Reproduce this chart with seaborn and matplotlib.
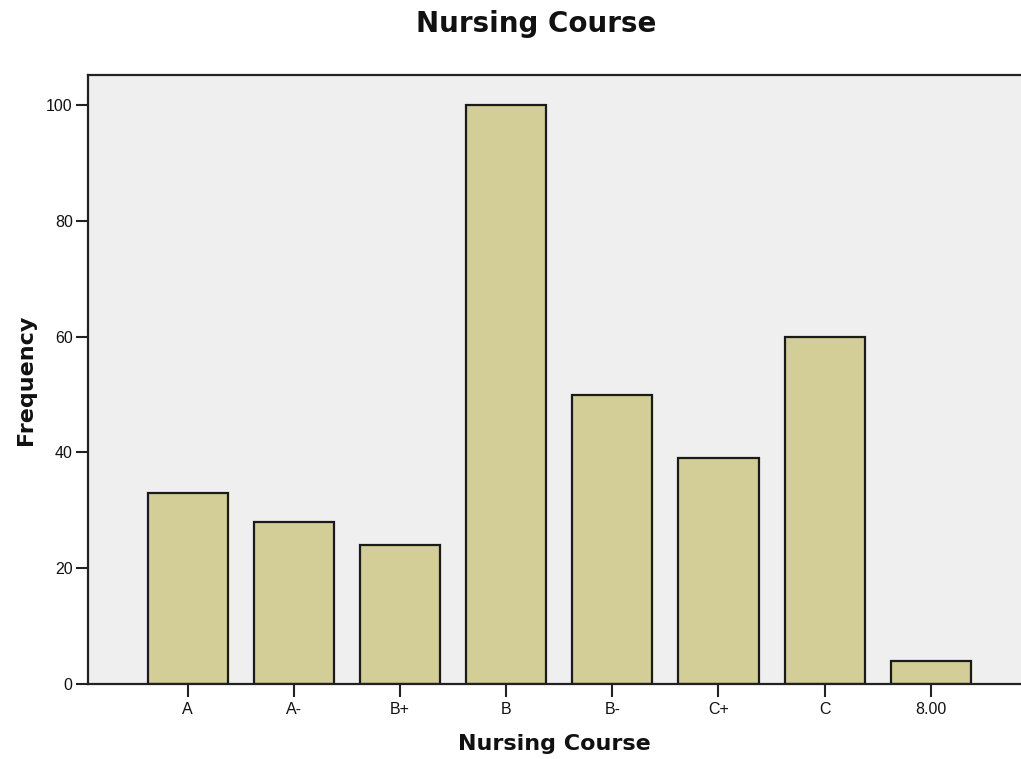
import matplotlib
matplotlib.use("Agg")
import matplotlib.pyplot as plt
import seaborn as sns
import pandas as pd

categories = ["A", "A-", "B+", "B", "B-", "C+", "C", "8.00"]
frequencies = [33, 28, 24, 100, 50, 39, 60, 4]
y_ticks = [0, 20, 40, 60, 80, 100]

df = pd.DataFrame({"course": categories, "freq": frequencies})

sns.set_style("white")
plt.rcParams["font.family"] = ["Liberation Sans", "DejaVu Sans"]

fig = plt.figure(figsize=(10.21, 7.59), dpi=100)
ax = fig.add_axes([88 / 1021, 1 - 684 / 759, 1 - 88 / 1021, (684 - 75) / 759])
ax.set_facecolor("#EFEFEF")

sns.barplot(data=df, x="course", y="freq", order=categories, color="#D3CD97",
            saturation=1, edgecolor="#1a1a1a", linewidth=1.6, width=0.755, ax=ax)

ax.set_xlim(-0.94, 7.85)
ax.set_ylim(0, 105.2)
ax.set_yticks(y_ticks)
ax.set_yticklabels([str(v) for v in y_ticks])

for s in ["left", "top", "bottom"]:
    ax.spines[s].set_visible(True)
    ax.spines[s].set_color("#222222")
    ax.spines[s].set_linewidth(1.6)
ax.spines["right"].set_visible(False)

ax.tick_params(axis="both", direction="out", length=9, width=1.5, color="#222222",
               labelsize=11.5, labelcolor="#111111", left=True, bottom=True)
ax.tick_params(axis="y", pad=2)
ax.tick_params(axis="x", pad=4)

ax.set_xlabel("Nursing Course", fontsize=16, fontweight="bold", labelpad=12,
              family="DejaVu Sans", color="#111111")
ax.set_ylabel("Frequency", fontsize=16, fontweight="bold", labelpad=7,
              family="DejaVu Sans", color="#111111")

fig.text(536 / 1021, 1 - 24 / 759, "Nursing Course", fontsize=20, fontweight="bold",
         ha="center", va="center", family="DejaVu Sans", color="#111111")

fig.savefig("out.png", dpi=100)
